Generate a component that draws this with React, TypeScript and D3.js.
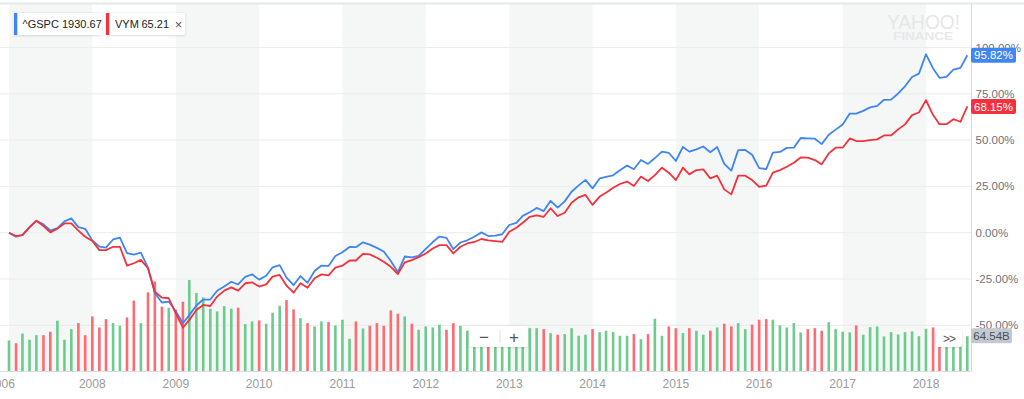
import React from 'react';
import * as d3 from 'd3';

const W = 1024;
const H = 399;

// monthly closes, Jan 2007 .. Jul 2018
const months = d3.timeMonth.range(new Date(2007, 0, 1), new Date(2018, 7, 1));

// % change since Jan 2007
const gspc = [
  0, -2.18, -1.21, 3.07, 6.42, 4.53, 1.18, 2.49, 6.15, 7.73, 2.98, 2.09,
  -4.15, -7.48, -8.03, -3.66, -2.63, -11.0, -11.88, -10.81, -18.9, -32.64, -37.68, -37.2,
  -42.58, -48.89, -44.52, -39.31, -36.09, -36.08, -31.34, -29.04, -26.5, -27.95, -23.82, -22.47,
  -25.33, -23.21, -18.69, -17.49, -24.25, -28.34, -23.41, -27.04, -20.65, -17.73, -17.92, -12.56,
  -10.58, -7.72, -7.82, -5.19, -6.47, -8.18, -10.15, -15.25, -21.33, -12.86, -13.3, -12.56,
  -8.75, -5.05, -2.07, -2.8, -8.89, -5.29, -4.1, -2.2, 0.17, -1.81, -1.53, -0.84,
  4.16, 5.31, 9.1, 11.08, 13.38, 11.68, 17.21, 13.54, 16.92, 22.13, 25.56, 28.52,
  23.94, 29.29, 30.18, 30.99, 33.74, 36.29, 34.24, 39.29, 37.13, 40.31, 43.76, 43.15,
  38.71, 46.32, 43.78, 45.0, 46.53, 43.45, 46.28, 37.12, 33.5, 44.58, 44.65, 42.11,
  34.9, 34.35, 43.21, 43.6, 45.8, 45.93, 51.13, 50.94, 50.76, 47.83, 52.88, 55.66,
  58.45, 64.34, 64.28, 65.77, 67.69, 68.5, 71.76, 71.85, 75.17, 79.06, 84.09, 85.89,
  96.34, 88.69, 83.62, 84.12, 88.1, 89.01, 95.82,
];

const vym = [
  0, -1.8, -1.3, 2.9, 6.5, 3.6, 0.2, 2.2, 5.0, 5.0, 1.1, -2.2,
  -4.5, -9.4, -9.4, -7.6, -7.6, -17.8, -16.5, -14.7, -19.2, -31.8, -35.1, -35.4,
  -43.5, -51.3, -47.1, -41.7, -39.0, -39.6, -34.5, -31.3, -29.5, -31.3, -27.3, -26.8,
  -29.1, -27.9, -23.7, -22.8, -28.6, -32.4, -27.3, -29.7, -24.6, -22.5, -23.0, -18.9,
  -17.8, -15.0, -15.0, -11.4, -11.7, -13.5, -15.7, -18.4, -22.3, -16.0, -14.8, -13.2,
  -11.2, -8.5, -6.7, -6.7, -11.2, -7.6, -5.8, -5.0, -3.4, -4.1, -4.5, -5.0,
  0.5, 2.7, 5.4, 8.6, 9.4, 8.6, 13.2, 9.0, 10.8, 16.2, 19.1, 20.4,
  15.0, 19.5, 21.6, 24.3, 26.3, 27.6, 25.2, 30.3, 27.9, 31.1, 35.1, 32.4,
  28.4, 35.1, 31.5, 33.8, 34.2, 29.3, 30.8, 23.4, 20.7, 30.8, 30.8, 28.4,
  24.8, 25.4, 32.4, 33.8, 35.6, 37.8, 40.6, 40.5, 39.2, 36.9, 42.8, 45.9,
  45.9, 50.9, 49.5, 49.5, 50.0, 50.4, 52.5, 52.5, 55.8, 58.5, 63.5, 64.9,
  71.6, 63.5, 58.6, 58.6, 61.3, 59.9, 68.15,
];

// ^GSPC volume, billions
const volume = [
  56.7, 51.8, 69.5, 58.0, 66.4, 66.4, 72.6, 92.8, 58.0, 77.4, 88.4, 66.4,
  100.7, 80.5, 95.7, 88.4, 83.6, 98.8, 129.4, 88.4, 144.6, 164.7, 118.4, 116.6,
  113.0, 127.5, 167.1, 143.3, 135.4, 114.7, 109.8, 119.5, 114.7, 116.6, 86.6, 91.5,
  93.3, 87.3, 107.4, 120.2, 130.5, 113.5, 97.5, 88.4, 82.4, 91.5, 90.2, 84.2,
  94.6, 59.8, 91.5, 78.7, 83.6, 88.4, 83.6, 111.6, 105.6, 100.7, 87.3, 76.3,
  82.4, 80.5, 85.5, 76.3, 88.4, 83.6, 74.5, 65.9, 73.2, 76.9, 76.9, 73.2,
  76.9, 73.2, 69.5, 79.2, 79.2, 77.4, 70.1, 67.2, 68.3, 79.2, 65.3, 67.2,
  77.4, 71.9, 74.5, 71.9, 65.3, 65.3, 68.3, 59.1, 68.3, 96.4, 65.3, 82.4,
  79.2, 70.1, 79.2, 74.5, 67.2, 74.5, 80.5, 87.3, 82.4, 88.4, 77.4, 85.5,
  94.6, 95.7, 94.6, 84.2, 80.5, 88.4, 71.4, 77.4, 79.2, 74.5, 90.2, 77.4,
  72.7, 71.4, 84.2, 67.2, 81.1, 82.4, 64.1, 71.9, 67.7, 71.9, 73.2, 64.6,
  78.1, 80.5, 73.2, 65.9, 67.7, 65.9, 64.54,
];

const yTicks = [100, 75, 50, 25, 0, -25, -50];
const yearTicks = [2008, 2009, 2010, 2011, 2012, 2013, 2014, 2015, 2016, 2017, 2018];
const shadedYears = [2007, 2009, 2011, 2013, 2015, 2017];

const BLUE = '#3f86f2';
const RED = '#f4323d';
const VOL_UP = '#6ccb8d';
const VOL_DOWN = '#ff6b73';
const FONT = '"Liberation Sans", Arial, Helvetica, sans-serif';

const plotRight = 971;
const plotTop = 4;
const plotBottom = 371.5;

const App: React.FC = () => {
  const x = d3.scaleTime()
    .domain([new Date(2008, 0, 1), new Date(2018, 0, 1)])
    .range([92.3, 926]);
  const y = d3.scaleLinear().domain([0, 100]).range([232.7, 47.5]);
  const yVol = d3.scaleLinear().domain([0, 180]).range([plotBottom, 273]);

  const line = d3.line<number>()
    .x((_, i) => x(months[i]))
    .y(d => y(d));

  const lastG = gspc[gspc.length - 1];
  const lastV = vym[vym.length - 1];
  const lastVol = volume[volume.length - 1];

  return (
    <svg width={W} height={H} style={{ position: 'absolute', left: 0, top: 0, background: '#fff' }} fontFamily={FONT}>
      <defs>
        <filter id="shadow" x="-20%" y="-30%" width="140%" height="160%">
          <feDropShadow dx="0" dy="0.5" stdDeviation="1" floodColor="#000" floodOpacity="0.18" />
        </filter>
        <clipPath id="plot">
          <rect x={0} y={plotTop} width={plotRight} height={plotBottom - plotTop} />
        </clipPath>
      </defs>

      {/* year bands */}
      {shadedYears.map(yr => {
        const x0 = Math.max(0, x(new Date(yr, 0, 1)));
        const x1 = Math.min(plotRight, x(new Date(yr + 1, 0, 1)));
        return <rect key={yr} x={x0} y={plotTop} width={x1 - x0} height={plotBottom - plotTop} fill="#f5f6f6" />;
      })}

      {/* top border */}
      <rect x={0} y={2.5} width={W} height={2} fill="#e6e7e8" />

      {/* gridlines */}
      {yTicks.map(t => (
        <line key={t} x1={0} x2={plotRight} y1={y(t)} y2={y(t)} stroke="#ececec" strokeWidth={1} />
      ))}

      {/* watermark */}
      <text x={923.5} y={28.5} fontSize={20} fill="#e6e6e6" textAnchor="middle" textLength={73} lengthAdjust="spacingAndGlyphs">YAHOO!</text>
      <text x={923} y={39.5} fontSize={10} fontWeight="bold" fill="#e8e8e8" textAnchor="middle" textLength={60} lengthAdjust="spacingAndGlyphs">FINANCE</text>

      {/* volume */}
      <g clipPath="url(#plot)">
        {volume.map((v, i) => {
          const up = i === 0 || gspc[i] >= gspc[i - 1];
          const cx = x(months[i]);
          return (
            <rect key={i} x={cx - 1.3} y={yVol(v)} width={2.6} height={plotBottom - yVol(v)} fill={up ? VOL_UP : VOL_DOWN} />
          );
        })}
      </g>

      {/* lines */}
      <g clipPath="url(#plot)">
        <path d={line(gspc) || undefined} fill="none" stroke={BLUE} strokeWidth={1.8} strokeLinejoin="round" />
        <path d={line(vym) || undefined} fill="none" stroke={RED} strokeWidth={1.8} strokeLinejoin="round" />
      </g>

      {/* axes lines */}
      <line x1={plotRight + 0.5} x2={plotRight + 0.5} y1={plotTop} y2={plotBottom} stroke="#d8d8d8" />
      <line x1={0} x2={plotRight} y1={plotBottom} y2={plotBottom} stroke="#dcdcdc" />

      {/* x labels */}
      <text x={1.5} y={388} fontSize={12} fill="#9a9a9a" textAnchor="middle">2006</text>
      {yearTicks.map(yr => (
        <text key={yr} x={x(new Date(yr, 0, 1))} y={388} fontSize={12} fill="#9a9a9a" textAnchor="middle">{yr}</text>
      ))}

      {/* y labels */}
      {yTicks.map(t => (
        <text key={t} x={975.5} y={y(t)} dy="0.35em" fontSize={11.5} fill="#6e7277">
          {t.toFixed(2) + '%'}
        </text>
      ))}

      {/* value badges */}
      <rect x={971} y={y(lastG) - 7.5} width={45} height={15} rx={2} fill={BLUE} />
      <text x={993.5} y={y(lastG)} dy="0.35em" fontSize={11.5} fill="#fff" textAnchor="middle">{lastG.toFixed(2)}%</text>
      <rect x={971} y={y(lastV) - 7.5} width={45} height={15} rx={2} fill={RED} />
      <text x={993.5} y={y(lastV)} dy="0.35em" fontSize={11.5} fill="#fff" textAnchor="middle">{lastV.toFixed(2)}%</text>
      <rect x={971} y={yVol(lastVol) - 8} width={41} height={15} rx={2} fill="#c4c9d0" />
      <text x={991.5} y={yVol(lastVol) - 0.5} dy="0.35em" fontSize={11.5} fill="#4a5059" textAnchor="middle">{lastVol.toFixed(2)}B</text>

      {/* zoom control */}
      <g filter="url(#shadow)">
        <rect x={469} y={326} width={59} height={21} rx={2} fill="#fff" />
      </g>
      <line x1={500} x2={500} y1={330} y2={343} stroke="#e2e2e2" />
      <text x={484} y={337} dy="0.35em" fontSize={17} fill="#555" textAnchor="middle">−</text>
      <text x={514} y={337} dy="0.35em" fontSize={17} fill="#555" textAnchor="middle">+</text>

      {/* scroll button */}
      <g filter="url(#shadow)">
        <rect x={936} y={330} width={26} height={17} rx={2} fill="#fff" />
      </g>
      <text x={949} y={338.5} dy="0.35em" fontSize={12} fill="#555" textAnchor="middle" letterSpacing={-1}>{'>>'}</text>

      {/* legend */}
      <g filter="url(#shadow)">
        <rect x={14} y={13} width={88} height={22} rx={2} fill="#fff" />
        <rect x={106} y={13} width={79} height={22} rx={2} fill="#fff" />
      </g>
      <rect x={14} y={13} width={3.3} height={22} fill={BLUE} />
      <rect x={106} y={13} width={3.3} height={22} fill={RED} />
      <text x={22.5} y={24} dy="0.35em" fontSize={11} fill="#222">^GSPC</text>
      <text x={62} y={24} dy="0.35em" fontSize={11} fill="#222">1930.67</text>
      <text x={115} y={24} dy="0.35em" fontSize={11} fill="#222">VYM</text>
      <text x={141.5} y={24} dy="0.35em" fontSize={11} fill="#222">65.21</text>
      <text x={178.5} y={24} dy="0.35em" fontSize={13} fill="#555" textAnchor="middle">×</text>
    </svg>
  );
};

export default App;
